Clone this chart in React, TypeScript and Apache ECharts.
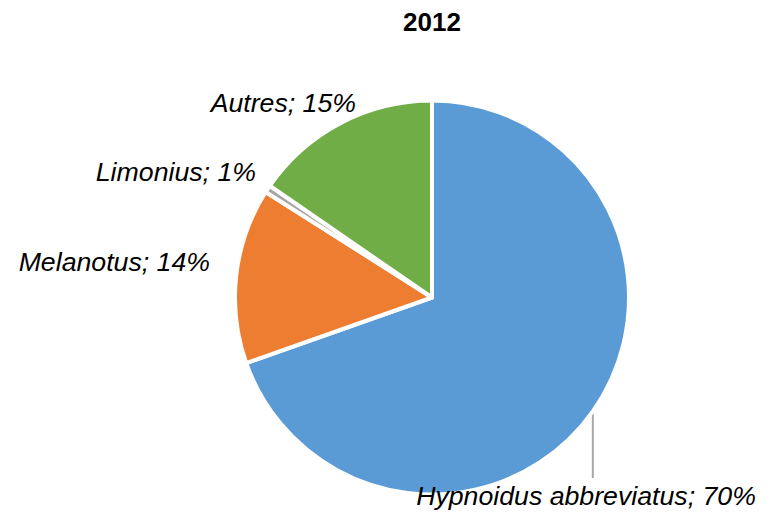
import React, { useEffect, useRef } from 'react';
import * as echarts from 'echarts';

const chartTitle = '2012';
const categories = ['Hypnoidus abbreviatus', 'Melanotus', 'Limonius', 'Autres'];
const values = [69.6, 14.4, 0.6, 15.4];
const colors = ['#5B9BD5', '#ED7D31', '#A5A5A5', '#70AD47'];

// label anchor spots (layout only)
const labelSpots = [
  { x: 586, y: 496, align: 'center' },
  { x: 210, y: 261.5, align: 'right' },
  { x: 256, y: 172, align: 'right' },
  { x: 356, y: 102.5, align: 'right' },
];
const leaderEndY = 478;

const FONT = '"Liberation Sans", Arial, Helvetica, sans-serif';

export default function App() {
  const ref = useRef<HTMLDivElement>(null);
  useEffect(() => {
    if (!ref.current) return;
    const chart = echarts.init(ref.current, undefined, { renderer: 'svg' });
    chart.setOption({
      animation: false,
      backgroundColor: '#ffffff',
      title: {
        text: chartTitle,
        left: 398,
        top: 4,
        textStyle: { fontFamily: FONT, fontSize: 26, fontWeight: 'bold', color: '#000000' },
      },
      series: [
        {
          type: 'pie',
          center: [432, 297.5],
          radius: 197,
          startAngle: 90,
          clockwise: true,
          avoidLabelOverlap: false,
          itemStyle: { borderColor: '#ffffff', borderWidth: 4 },
          label: {
            show: true,
            position: 'outside',
            fontFamily: FONT,
            fontSize: 26.7,
            fontStyle: 'italic',
            color: '#000000',
            formatter: (p: any) => `${p.name}; ${Math.round(p.percent)}%`,
          },
          labelLine: { show: false, length: 5, length2: 5, lineStyle: { color: '#A6A6A6', width: 2 } },
          labelLayout: (params: any) => {
            const s = labelSpots[params.dataIndex];
            const out: any = { x: s.x, y: s.y, align: s.align, verticalAlign: 'middle' };
            if (params.dataIndex === 0 && params.labelLinePoints && params.labelLinePoints[0]) {
              const [ax, ay] = params.labelLinePoints[0];
              out.labelLinePoints = [[ax, ay], [ax, leaderEndY], [ax, leaderEndY]];
            }
            return out;
          },
          data: categories.map((name, i) => ({
            name,
            value: values[i],
            itemStyle: { color: colors[i] },
            labelLine: { show: i === 0 },
          })),
        },
      ],
    });
    return () => chart.dispose();
  }, []);
  return <div ref={ref} style={{ position: 'fixed', left: 0, top: 0, width: 770, height: 515 }} />;
}
